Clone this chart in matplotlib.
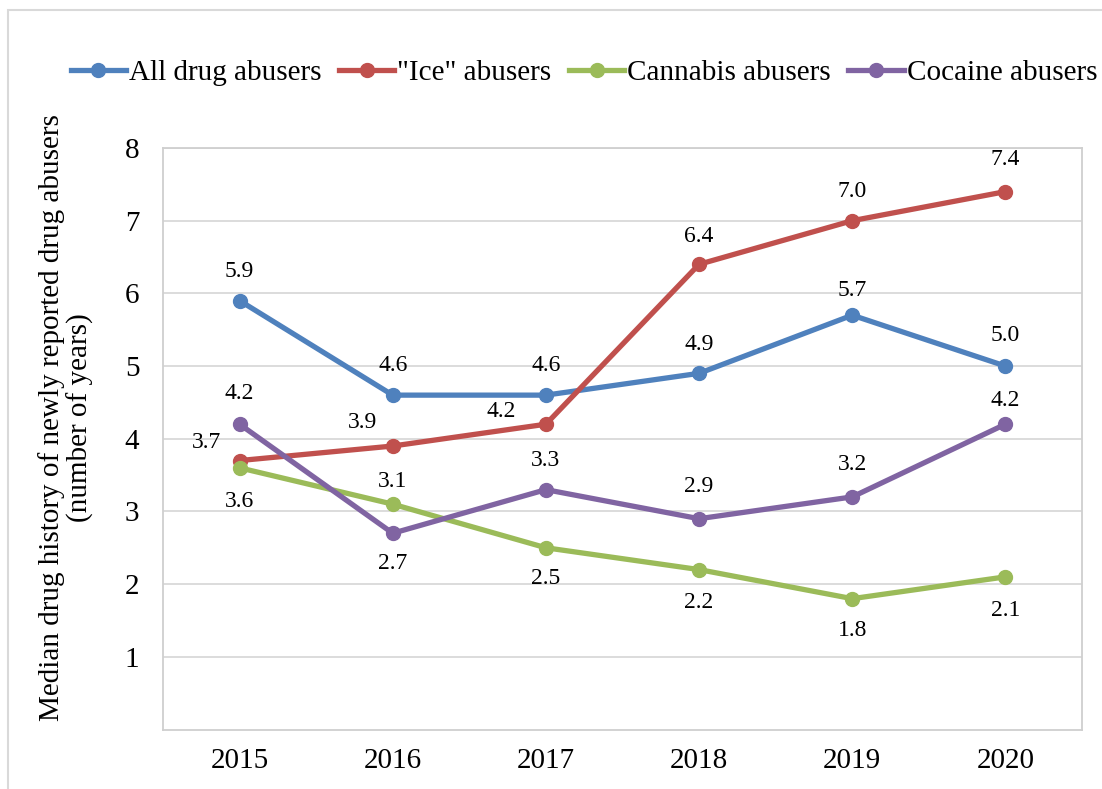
import matplotlib
matplotlib.use("Agg")
import matplotlib.pyplot as plt
from matplotlib.patches import Rectangle

plt.rcParams['font.family'] = ['Liberation Serif', 'DejaVu Serif']

years = ['2015', '2016', '2017', '2018', '2019', '2020']
all_drug = [5.9, 4.6, 4.6, 4.9, 5.7, 5.0]
ice = [3.7, 3.9, 4.2, 6.4, 7.0, 7.4]
cannabis = [3.6, 3.1, 2.5, 2.2, 1.8, 2.1]
cocaine = [4.2, 2.7, 3.3, 2.9, 3.2, 4.2]

names = ['All drug abusers', '"Ice" abusers', 'Cannabis abusers', 'Cocaine abusers']
colors = ['#4F81BD', '#C0504D', '#9BBB59', '#8064A2']
# where each value label sits, offset from its point in points
offsets = [
    [(0, 21), (0, 21), (0, 21), (0, 21), (0, 18), (0, 22)],
    [(-24, 13), (-22, 17), (-32, 9), (0, 20), (0, 21), (0, 23)],
    [(0, -24), (0, 16), (0, -22), (0, -24), (0, -23), (0, -24)],
    [(0, 22), (0, -22), (0, 21), (0, 23), (0, 23), (0, 17)],
]

fig = plt.figure(figsize=(11.02, 7.89), dpi=100)
ax = fig.add_axes([163/1102, 1-729.5/789, 919/1102, 581.5/789])

x = list(range(len(years)))
for series, name, c, offs in zip([all_drug, ice, cannabis, cocaine], names, colors, offsets):
    ax.plot(x, series, color=c, lw=3.8, marker='o', ms=10, label=name)
    for xi, v, (dx, dy) in zip(x, series, offs):
        ax.annotate('%.1f' % v, (xi, v), xytext=(dx, dy), textcoords='offset points',
                    ha='center', va='center', fontsize=17, color='black')

ax.set_xlim(-0.5, 5.5)
ax.set_ylim(0, 8)
ax.set_yticks(range(1, 9))
ax.set_xticks(x)
ax.set_xticklabels(years)
ax.tick_params(length=0, labelsize=21)
ax.tick_params(axis='x', pad=13)
ax.tick_params(axis='y', pad=17)
ax.grid(axis='y', color='#D9D9D9', lw=1.3)
ax.set_axisbelow(True)
for s in ax.spines.values():
    s.set_color('#CFCFCF')
    s.set_linewidth(1.3)

fig.text(66/1102, 1-418/789,
         'Median drug history of newly reported drug abusers\n(number of years)',
         rotation=90, ha='center', va='center', multialignment='center',
         fontsize=21, linespacing=1.05)

fig.legend(loc='center', bbox_to_anchor=(584/1102, 1-73/789), ncol=4, frameon=False,
           fontsize=21, handlelength=1.9, handletextpad=0.1, columnspacing=0.6,
           borderaxespad=0, borderpad=0)

fig.patches.append(Rectangle((8/1102, -0.1), 2, 1.1 - 10/789, transform=fig.transFigure,
                             fill=False, edgecolor='#D9D9D9', lw=1.5))

fig.savefig('out.png', dpi=100)
